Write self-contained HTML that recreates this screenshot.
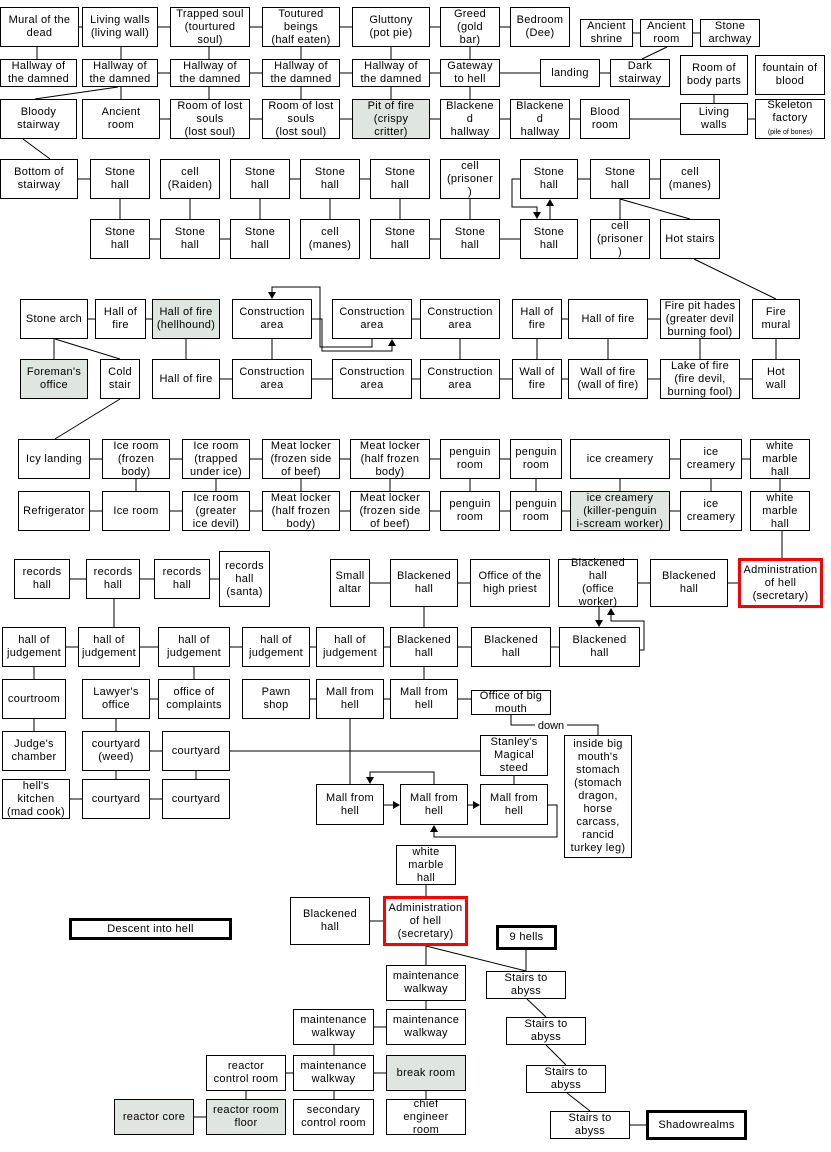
<!DOCTYPE html>
<html><head><meta charset="utf-8"><style>
body{margin:0;width:831px;height:1152px;background:#fff;position:relative;overflow:hidden;font-family:"Liberation Sans",Arial,sans-serif}
.b{position:absolute;box-sizing:border-box;border:1px solid #000;background:#fff;display:flex;align-items:center;justify-content:center;text-align:center;font-size:11px;line-height:13px;letter-spacing:0.3px;overflow:visible;white-space:nowrap}
.g{background:#dfe5df}
.r{border:3px solid #f00}
.t{border:3px solid #000}
svg{position:absolute;left:0;top:0}
</style></head><body>
<svg width="831" height="1152"><g fill="none" stroke="#000" stroke-width="1">
<path d="M79 27H82M158 27H170M250 27H262M340 27H352M430 27H440M500 27H510M633 33H640M693 33H700M37 47V59M121 47V59M209 47V59M301 47V59M391 47V59M470 47V59M667 47L642 59M158 73H170M250 73H262M340 73H352M430 73H440M500 73H540M600 73H610M121 87V99M209 87V99M301 87V99M391 87V99M470 87V99M714 95V103M118 87L35 99M160 119H170M250 119H262M340 119H352M430 119H440M500 119H510M570 119H580M630 119H680M748 119H755M23 139L50 159M78 179H90M290 179H300M360 179H370M578 179H590M650 179H660M120 199V219M190 199V219M260 199V219M330 199V219M400 199V219M470 199V219M620 199V219M620 199L690 219M694 259L776 299M150 239H160M220 239H230M430 239H440M500 239H520M520 179H512V207H537V214M550 219V204M88 319H95M146 319H152M412 319H420M562 319H568M648 319H660M54 339V359M186 339V359M272 339V359M460 339V359M537 339V359M608 339V359M700 339V359M776 339V359M55 339L120 359M120 399L55 439M312 319H322V351H392V345M372 339V347H320V287H272V293M220 379H232M312 379H332M412 379H420M500 379H512M562 379H568M648 379H660M740 379H752M90 459H102M170 459H182M250 459H262M340 459H350M430 459H440M500 459H510M670 459H680M742 459H750M136 479V491M216 479V491M301 479V491M390 479V491M470 479V491M536 479V491M620 479V491M711 479V491M780 479V491M90 511H102M170 511H182M250 511H262M340 511H350M430 511H440M500 511H510M562 511H570M670 511H680M782 531V559M70 579H86M140 579H154M210 579H219M370 583H390M458 583H470M638 583H650M728 583H738M114 599V627M424 607V627M424 667V679M599 607V621M640 650H644V621H611V613M66 647H78M140 647H158M230 647H242M310 647H316M384 647H390M458 647H471M551 647H559M34 667V679M194 667V679M150 699H158M310 699H316M384 699H390M458 699H471M34 719V731M116 719V731M350 719V784M511 715V725H535M567 725H598V735M150 751H162M230 751H480M116 771V779M196 771V779M514 776V784M70 799H82M150 799H162M434 784V772H370V778M384 805H394M468 805H474M548 805H557V837H434V831M426 885V896M370 921H384M426 946V965M426 1001V1009M374 1027H386M334 1045V1055M286 1073H293M374 1073H386M246 1091V1099M334 1091V1099M426 1091V1099M194 1117H206M630 1125H646M526 950V971M426 946L526 971M527 999L546 1017M546 1045L566 1065M567 1093L590 1111"/></g>
<g fill="#000">
<polygon points="533,212 541,212 537,219"/><polygon points="546,206 554,206 550,199"/>
<polygon points="388,346 396,346 392,339"/><polygon points="268,292 276,292 272,299"/>
<polygon points="595,620 603,620 599,627"/><polygon points="607,615 615,615 611,608"/>
<polygon points="366,777 374,777 370,784"/><polygon points="393,801 393,809 400,805"/>
<polygon points="473,801 473,809 480,805"/><polygon points="430,832 438,832 434,825"/>
</g>
<text x="551" y="729" font-family="Liberation Sans,Arial,sans-serif" font-size="11" text-anchor="middle">down</text>
</svg>

<div class="b" style="left:0;top:7px;width:79px;height:40px">Mural of the<br>dead</div>
<div class="b" style="left:82px;top:7px;width:76px;height:40px">Living walls<br>(living wall)</div>
<div class="b" style="left:170px;top:7px;width:80px;height:40px">Trapped soul<br>(tourtured<br>soul)</div>
<div class="b" style="left:262px;top:7px;width:78px;height:40px">Toutured<br>beings<br>(half eaten)</div>
<div class="b" style="left:352px;top:7px;width:78px;height:40px">Gluttony<br>(pot pie)</div>
<div class="b" style="left:440px;top:7px;width:60px;height:40px">Greed<br>(gold<br>bar)</div>
<div class="b" style="left:510px;top:7px;width:60px;height:40px">Bedroom<br>(Dee)</div>
<div class="b" style="left:580px;top:19px;width:53px;height:28px">Ancient<br>shrine</div>
<div class="b" style="left:640px;top:19px;width:53px;height:28px">Ancient<br>room</div>
<div class="b" style="left:700px;top:19px;width:60px;height:28px">Stone<br>archway</div>

<div class="b" style="left:0;top:59px;width:77px;height:28px">Hallway of<br>the damned</div>
<div class="b" style="left:82px;top:59px;width:76px;height:28px">Hallway of<br>the damned</div>
<div class="b" style="left:170px;top:59px;width:80px;height:28px">Hallway of<br>the damned</div>
<div class="b" style="left:262px;top:59px;width:78px;height:28px">Hallway of<br>the damned</div>
<div class="b" style="left:352px;top:59px;width:78px;height:28px">Hallway of<br>the damned</div>
<div class="b" style="left:440px;top:59px;width:60px;height:28px">Gateway<br>to hell</div>
<div class="b" style="left:540px;top:59px;width:60px;height:28px">landing</div>
<div class="b" style="left:610px;top:59px;width:60px;height:28px">Dark<br>stairway</div>
<div class="b" style="left:680px;top:55px;width:68px;height:40px">Room of<br>body parts</div>
<div class="b" style="left:755px;top:55px;width:70px;height:40px">fountain of<br>blood</div>

<div class="b" style="left:0;top:99px;width:77px;height:40px">Bloody<br>stairway</div>
<div class="b" style="left:82px;top:99px;width:78px;height:40px">Ancient<br>room</div>
<div class="b" style="left:170px;top:99px;width:80px;height:40px">Room of lost<br>souls<br>(lost soul)</div>
<div class="b" style="left:262px;top:99px;width:78px;height:40px">Room of lost<br>souls<br>(lost soul)</div>
<div class="b g" style="left:352px;top:99px;width:78px;height:40px">Pit of fire<br>(crispy<br>critter)</div>
<div class="b" style="left:440px;top:99px;width:60px;height:40px">Blackene<br>d<br>hallway</div>
<div class="b" style="left:510px;top:99px;width:60px;height:40px">Blackene<br>d<br>hallway</div>
<div class="b" style="left:580px;top:99px;width:50px;height:40px">Blood<br>room</div>
<div class="b" style="left:680px;top:103px;width:68px;height:32px">Living<br>walls</div>
<div class="b" style="left:755px;top:99px;width:70px;height:40px"><div>Skeleton<br>factory<br><span style="font-size:7px;letter-spacing:0">(pile of bones)</span></div></div>

<div class="b" style="left:0;top:159px;width:78px;height:40px">Bottom of<br>stairway</div>
<div class="b" style="left:90px;top:159px;width:60px;height:40px">Stone<br>hall</div>
<div class="b" style="left:160px;top:159px;width:60px;height:40px">cell<br>(Raiden)</div>
<div class="b" style="left:230px;top:159px;width:60px;height:40px">Stone<br>hall</div>
<div class="b" style="left:300px;top:159px;width:60px;height:40px">Stone<br>hall</div>
<div class="b" style="left:370px;top:159px;width:60px;height:40px">Stone<br>hall</div>
<div class="b" style="left:440px;top:159px;width:60px;height:40px">cell<br>(prisoner<br>)</div>
<div class="b" style="left:520px;top:159px;width:58px;height:40px">Stone<br>hall</div>
<div class="b" style="left:590px;top:159px;width:60px;height:40px">Stone<br>hall</div>
<div class="b" style="left:660px;top:159px;width:60px;height:40px">cell<br>(manes)</div>

<div class="b" style="left:90px;top:219px;width:60px;height:40px">Stone<br>hall</div>
<div class="b" style="left:160px;top:219px;width:60px;height:40px">Stone<br>hall</div>
<div class="b" style="left:230px;top:219px;width:60px;height:40px">Stone<br>hall</div>
<div class="b" style="left:300px;top:219px;width:60px;height:40px">cell<br>(manes)</div>
<div class="b" style="left:370px;top:219px;width:60px;height:40px">Stone<br>hall</div>
<div class="b" style="left:440px;top:219px;width:60px;height:40px">Stone<br>hall</div>
<div class="b" style="left:520px;top:219px;width:58px;height:40px">Stone<br>hall</div>
<div class="b" style="left:590px;top:219px;width:60px;height:40px">cell<br>(prisoner<br>)</div>
<div class="b" style="left:660px;top:219px;width:60px;height:40px">Hot stairs</div>

<div class="b" style="left:20px;top:299px;width:68px;height:40px">Stone arch</div>
<div class="b" style="left:95px;top:299px;width:51px;height:40px">Hall of<br>fire</div>
<div class="b g" style="left:152px;top:299px;width:68px;height:40px">Hall of fire<br>(hellhound)</div>
<div class="b" style="left:232px;top:299px;width:80px;height:40px">Construction<br>area</div>
<div class="b" style="left:332px;top:299px;width:80px;height:40px">Construction<br>area</div>
<div class="b" style="left:420px;top:299px;width:80px;height:40px">Construction<br>area</div>
<div class="b" style="left:512px;top:299px;width:50px;height:40px">Hall of<br>fire</div>
<div class="b" style="left:568px;top:299px;width:80px;height:40px">Hall of fire</div>
<div class="b" style="left:660px;top:299px;width:80px;height:40px">Fire pit hades<br>(greater devil<br>burning fool)</div>
<div class="b" style="left:752px;top:299px;width:48px;height:40px">Fire<br>mural</div>

<div class="b g" style="left:20px;top:359px;width:68px;height:40px">Foreman's<br>office</div>
<div class="b" style="left:100px;top:359px;width:40px;height:40px">Cold<br>stair</div>
<div class="b" style="left:152px;top:359px;width:68px;height:40px">Hall of fire</div>
<div class="b" style="left:232px;top:359px;width:80px;height:40px">Construction<br>area</div>
<div class="b" style="left:332px;top:359px;width:80px;height:40px">Construction<br>area</div>
<div class="b" style="left:420px;top:359px;width:80px;height:40px">Construction<br>area</div>
<div class="b" style="left:512px;top:359px;width:50px;height:40px">Wall of<br>fire</div>
<div class="b" style="left:568px;top:359px;width:80px;height:40px">Wall of fire<br>(wall of fire)</div>
<div class="b" style="left:660px;top:359px;width:80px;height:40px">Lake of fire<br>(fire devil,<br>burning fool)</div>
<div class="b" style="left:752px;top:359px;width:48px;height:40px">Hot<br>wall</div>

<div class="b" style="left:18px;top:439px;width:72px;height:40px">Icy landing</div>
<div class="b" style="left:102px;top:439px;width:68px;height:40px">Ice room<br>(frozen<br>body)</div>
<div class="b" style="left:182px;top:439px;width:68px;height:40px">Ice room<br>(trapped<br>under ice)</div>
<div class="b" style="left:262px;top:439px;width:78px;height:40px">Meat locker<br>(frozen side<br>of beef)</div>
<div class="b" style="left:350px;top:439px;width:80px;height:40px">Meat locker<br>(half frozen<br>body)</div>
<div class="b" style="left:440px;top:439px;width:60px;height:40px">penguin<br>room</div>
<div class="b" style="left:510px;top:439px;width:52px;height:40px">penguin<br>room</div>
<div class="b" style="left:570px;top:439px;width:100px;height:40px">ice creamery</div>
<div class="b" style="left:680px;top:439px;width:62px;height:40px">ice<br>creamery</div>
<div class="b" style="left:750px;top:439px;width:60px;height:40px">white<br>marble<br>hall</div>

<div class="b" style="left:18px;top:491px;width:72px;height:40px">Refrigerator</div>
<div class="b" style="left:102px;top:491px;width:68px;height:40px">Ice room</div>
<div class="b" style="left:182px;top:491px;width:68px;height:40px">Ice room<br>(greater<br>ice devil)</div>
<div class="b" style="left:262px;top:491px;width:78px;height:40px">Meat locker<br>(half frozen<br>body)</div>
<div class="b" style="left:350px;top:491px;width:80px;height:40px">Meat locker<br>(frozen side<br>of beef)</div>
<div class="b" style="left:440px;top:491px;width:60px;height:40px">penguin<br>room</div>
<div class="b" style="left:510px;top:491px;width:52px;height:40px">penguin<br>room</div>
<div class="b g" style="left:570px;top:491px;width:100px;height:40px">ice creamery<br>(killer-penguin<br>i-scream worker)</div>
<div class="b" style="left:680px;top:491px;width:62px;height:40px">ice<br>creamery</div>
<div class="b" style="left:750px;top:491px;width:60px;height:40px">white<br>marble<br>hall</div>

<div class="b" style="left:14px;top:559px;width:56px;height:40px">records<br>hall</div>
<div class="b" style="left:86px;top:559px;width:54px;height:40px">records<br>hall</div>
<div class="b" style="left:154px;top:559px;width:56px;height:40px">records<br>hall</div>
<div class="b" style="left:219px;top:551px;width:51px;height:56px">records<br>hall<br>(santa)</div>
<div class="b" style="left:330px;top:559px;width:40px;height:48px">Small<br>altar</div>
<div class="b" style="left:390px;top:559px;width:68px;height:48px">Blackened<br>hall</div>
<div class="b" style="left:470px;top:559px;width:80px;height:48px">Office of the<br>high priest</div>
<div class="b" style="left:558px;top:559px;width:80px;height:48px">Blackened<br>hall<br>(office<br>worker)</div>
<div class="b" style="left:650px;top:559px;width:78px;height:48px">Blackened<br>hall</div>
<div class="b r" style="left:738px;top:558px;width:85px;height:50px">Administration<br>of hell<br>(secretary)</div>

<div class="b" style="left:2px;top:627px;width:64px;height:40px">hall of<br>judgement</div>
<div class="b" style="left:78px;top:627px;width:62px;height:40px">hall of<br>judgement</div>
<div class="b" style="left:158px;top:627px;width:72px;height:40px">hall of<br>judgement</div>
<div class="b" style="left:242px;top:627px;width:68px;height:40px">hall of<br>judgement</div>
<div class="b" style="left:316px;top:627px;width:68px;height:40px">hall of<br>judgement</div>
<div class="b" style="left:390px;top:627px;width:68px;height:40px">Blackened<br>hall</div>
<div class="b" style="left:471px;top:627px;width:80px;height:40px">Blackened<br>hall</div>
<div class="b" style="left:559px;top:627px;width:81px;height:40px">Blackened<br>hall</div>

<div class="b" style="left:2px;top:679px;width:64px;height:40px">courtroom</div>
<div class="b" style="left:82px;top:679px;width:68px;height:40px">Lawyer's<br>office</div>
<div class="b" style="left:158px;top:679px;width:72px;height:40px">office of<br>complaints</div>
<div class="b" style="left:242px;top:679px;width:68px;height:40px">Pawn<br>shop</div>
<div class="b" style="left:316px;top:679px;width:68px;height:40px">Mall from<br>hell</div>
<div class="b" style="left:390px;top:679px;width:68px;height:40px">Mall from<br>hell</div>
<div class="b" style="left:471px;top:690px;width:80px;height:25px">Office of big<br>mouth</div>

<div class="b" style="left:2px;top:731px;width:64px;height:40px">Judge's<br>chamber</div>
<div class="b" style="left:82px;top:731px;width:68px;height:40px">courtyard<br>(weed)</div>
<div class="b" style="left:162px;top:731px;width:68px;height:40px">courtyard</div>
<div class="b" style="left:480px;top:735px;width:68px;height:41px">Stanley's<br>Magical<br>steed</div>
<div class="b" style="left:564px;top:735px;width:68px;height:123px">inside big<br>mouth's<br>stomach<br>(stomach<br>dragon,<br>horse<br>carcass,<br>rancid<br>turkey leg)</div>

<div class="b" style="left:2px;top:779px;width:68px;height:40px">hell's<br>kitchen<br>(mad cook)</div>
<div class="b" style="left:82px;top:779px;width:68px;height:40px">courtyard</div>
<div class="b" style="left:162px;top:779px;width:68px;height:40px">courtyard</div>
<div class="b" style="left:316px;top:784px;width:68px;height:41px">Mall from<br>hell</div>
<div class="b" style="left:400px;top:784px;width:68px;height:41px">Mall from<br>hell</div>
<div class="b" style="left:480px;top:784px;width:68px;height:41px">Mall from<br>hell</div>

<div class="b" style="left:396px;top:845px;width:60px;height:40px">white<br>marble<br>hall</div>
<div class="b" style="left:290px;top:897px;width:80px;height:48px">Blackened<br>hall</div>
<div class="b r" style="left:383px;top:896px;width:85px;height:50px">Administration<br>of hell<br>(secretary)</div>
<div class="b t" style="left:69px;top:918px;width:163px;height:22px">Descent into hell</div>
<div class="b t" style="left:496px;top:925px;width:61px;height:25px">9 hells</div>
<div class="b" style="left:386px;top:965px;width:80px;height:36px">maintenance<br>walkway</div>
<div class="b" style="left:486px;top:971px;width:80px;height:28px">Stairs to<br>abyss</div>
<div class="b" style="left:293px;top:1009px;width:81px;height:36px">maintenance<br>walkway</div>
<div class="b" style="left:386px;top:1009px;width:80px;height:36px">maintenance<br>walkway</div>
<div class="b" style="left:506px;top:1017px;width:80px;height:28px">Stairs to<br>abyss</div>
<div class="b" style="left:206px;top:1055px;width:80px;height:36px">reactor<br>control room</div>
<div class="b" style="left:293px;top:1055px;width:81px;height:36px">maintenance<br>walkway</div>
<div class="b g" style="left:386px;top:1055px;width:80px;height:36px">break room</div>
<div class="b" style="left:526px;top:1065px;width:80px;height:28px">Stairs to<br>abyss</div>
<div class="b g" style="left:114px;top:1099px;width:80px;height:36px">reactor core</div>
<div class="b g" style="left:206px;top:1099px;width:80px;height:36px">reactor room<br>floor</div>
<div class="b" style="left:293px;top:1099px;width:81px;height:36px">secondary<br>control room</div>
<div class="b" style="left:386px;top:1099px;width:80px;height:36px">chief<br>engineer<br>room</div>
<div class="b" style="left:550px;top:1111px;width:80px;height:28px">Stairs to<br>abyss</div>
<div class="b t" style="left:646px;top:1110px;width:101px;height:30px">Shadowrealms</div>
</body></html>
